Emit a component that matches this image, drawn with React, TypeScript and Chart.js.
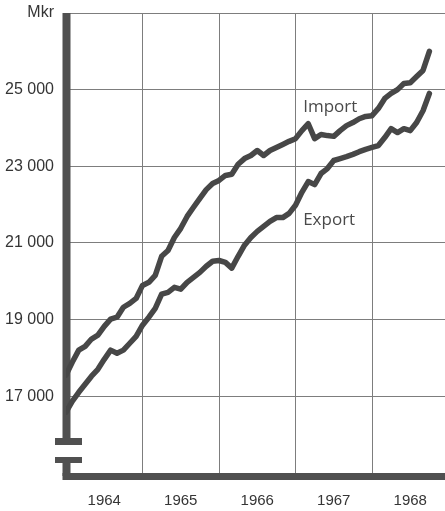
import React, { useEffect, useRef } from 'react';
import { Chart, registerables } from 'chart.js';

Chart.register(...registerables);

// Years shown on the x axis (monthly data, Jan 1964 onward)
const years = ['1964', '1965', '1966', '1967', '1968'];

// Monthly values, Mkr
const importValues = [
  17550, 17890, 18200, 18300, 18490, 18590, 18820, 19010, 19060, 19320, 19420, 19550,
  19890, 19970, 20150, 20650, 20800, 21140, 21380, 21690, 21930, 22160, 22390, 22550,
  22630, 22760, 22790, 23050, 23200, 23280, 23410, 23280, 23410, 23490, 23570, 23650,
  23720, 23930, 24110, 23720, 23830, 23800, 23780, 23930, 24060, 24140, 24240, 24300,
  24320, 24510, 24770, 24900, 25000, 25160, 25180, 25340, 25500, 26000,
];

const exportValues = [
  16580, 16870, 17100, 17310, 17520, 17700, 17960, 18200, 18120, 18200, 18380, 18560,
  18850, 19060, 19290, 19660, 19710, 19840, 19790, 19970, 20100, 20230, 20390, 20520,
  20540, 20490, 20340, 20650, 20940, 21140, 21300, 21430, 21560, 21660, 21660, 21770,
  21980, 22320, 22600, 22520, 22810, 22940, 23150, 23200, 23250, 23310, 23380, 23440,
  23490, 23540, 23750, 23980, 23880, 23980, 23930, 24140, 24450, 24900,
];

const yTickValues = [17000, 19000, 21000, 23000, 25000, 27000];
const unitLabel = 'Mkr';
const seriesNames = ['Import', 'Export'];

const INK = '#474747';
const GRID = '#7d7d7d';
const TEXT = '#353535';

function formatThousands(v: number): string {
  const th = Math.floor(v / 1000);
  const rest = String(Math.round(v % 1000)).padStart(3, '0');
  return `${th} ${rest}`;
}

const axisPlugin = {
  id: 'brokenAxis',
  beforeDatasetsDraw(chart: any) {
    const { ctx, chartArea } = chart;
    const { left, top, bottom, right } = chartArea;
    ctx.save();
    ctx.fillStyle = '#505050';
    // upper vertical bar
    ctx.fillRect(left - 3.5, top, 8, bottom - 38 - top);
    // break caps
    ctx.fillRect(left - 11, bottom - 38, 27, 7);
    ctx.fillRect(left - 11, bottom - 19, 27, 6);
    // lower vertical bar
    ctx.fillRect(left - 3.5, bottom - 13, 8, 13);
    // bottom axis
    ctx.fillRect(left - 3.5, bottom - 3, right - left + 3.5, 7);
    ctx.restore();
  },
  afterDatasetsDraw(chart: any) {
    const { ctx, scales } = chart;
    const x = scales.x;
    const y = scales.y;
    ctx.save();
    ctx.fillStyle = '#4a4a4a';
    ctx.font = '17px "Open Sans"';
    ctx.textAlign = 'left';
    ctx.textBaseline = 'middle';
    ctx.fillText(seriesNames[0], x.getPixelForValue(37.2), y.getPixelForValue(24530));
    ctx.fillText(seriesNames[1], x.getPixelForValue(37.2), y.getPixelForValue(21590));
    ctx.restore();
  },
};

export default function App() {
  const canvasRef = useRef<HTMLCanvasElement | null>(null);

  useEffect(() => {
    const canvas = canvasRef.current;
    if (!canvas) return;
    const months = importValues.map((_, i) => i);
    const chart = new Chart(canvas, {
      type: 'line',
      data: {
        datasets: [
          {
            label: seriesNames[0],
            data: importValues.map((v, i) => ({ x: months[i], y: v })),
            borderColor: INK,
            borderWidth: 5.5,
            pointRadius: 0,
            tension: 0,
            borderJoinStyle: 'round',
            borderCapStyle: 'round',
            fill: false,
          },
          {
            label: seriesNames[1],
            data: exportValues.map((v, i) => ({ x: months[i], y: v })),
            borderColor: INK,
            borderWidth: 5.5,
            pointRadius: 0,
            tension: 0,
            borderJoinStyle: 'round',
            borderCapStyle: 'round',
            fill: false,
          },
        ],
      },
      options: {
        animation: false,
        responsive: false,
        devicePixelRatio: 1,
        layout: { padding: { top: 13, right: 0, bottom: 0, left: 0 } },
        plugins: {
          legend: { display: false },
          tooltip: { enabled: false },
        },
        scales: {
          x: {
            type: 'linear',
            min: 0,
            max: 59.45,
            border: { display: false },
            afterBuildTicks: (scale: any) => {
              scale.ticks = [6, 12, 18, 24, 30, 36, 42, 48, 54].map((v) => ({ value: v }));
            },
            afterFit: (scale: any) => {
              scale.height = 35;
              scale.paddingLeft = 0;
              scale.paddingRight = 0;
            },
            grid: {
              drawTicks: false,
              lineWidth: 1,
              color: (c: any) => (c.tick && c.tick.value % 12 === 0 ? GRID : 'rgba(0,0,0,0)'),
            },
            ticks: {
              autoSkip: false,
              maxRotation: 0,
              padding: 16,
              color: TEXT,
              font: { family: '"Liberation Sans", Arial, sans-serif', size: 15 },
              callback: (v: any) => {
                const n = Number(v);
                return n % 12 === 6 ? years[(n - 6) / 12] : '';
              },
            },
          },
          y: {
            type: 'linear',
            min: 14915,
            max: 27000,
            border: { display: false },
            afterBuildTicks: (scale: any) => {
              scale.ticks = yTickValues.map((v) => ({ value: v }));
            },
            afterFit: (scale: any) => {
              scale.width = 66;
              scale.paddingTop = 0;
              scale.paddingBottom = 0;
            },
            grid: {
              drawTicks: false,
              lineWidth: 1,
              color: GRID,
            },
            ticks: {
              padding: 12,
              color: TEXT,
              font: { family: '"Liberation Sans", Arial, sans-serif', size: 16 },
              callback: (v: any) => {
                const n = Number(v);
                return n === 27000 ? unitLabel : formatThousands(n);
              },
            },
          },
        },
      },
      plugins: [axisPlugin],
    });
    return () => chart.destroy();
  }, []);

  return (
    <div style={{ position: 'absolute', left: 0, top: 0, width: 445, height: 511, background: '#fff' }}>
      <canvas ref={canvasRef} width={445} height={511} style={{ width: 445, height: 511 }} />
    </div>
  );
}
